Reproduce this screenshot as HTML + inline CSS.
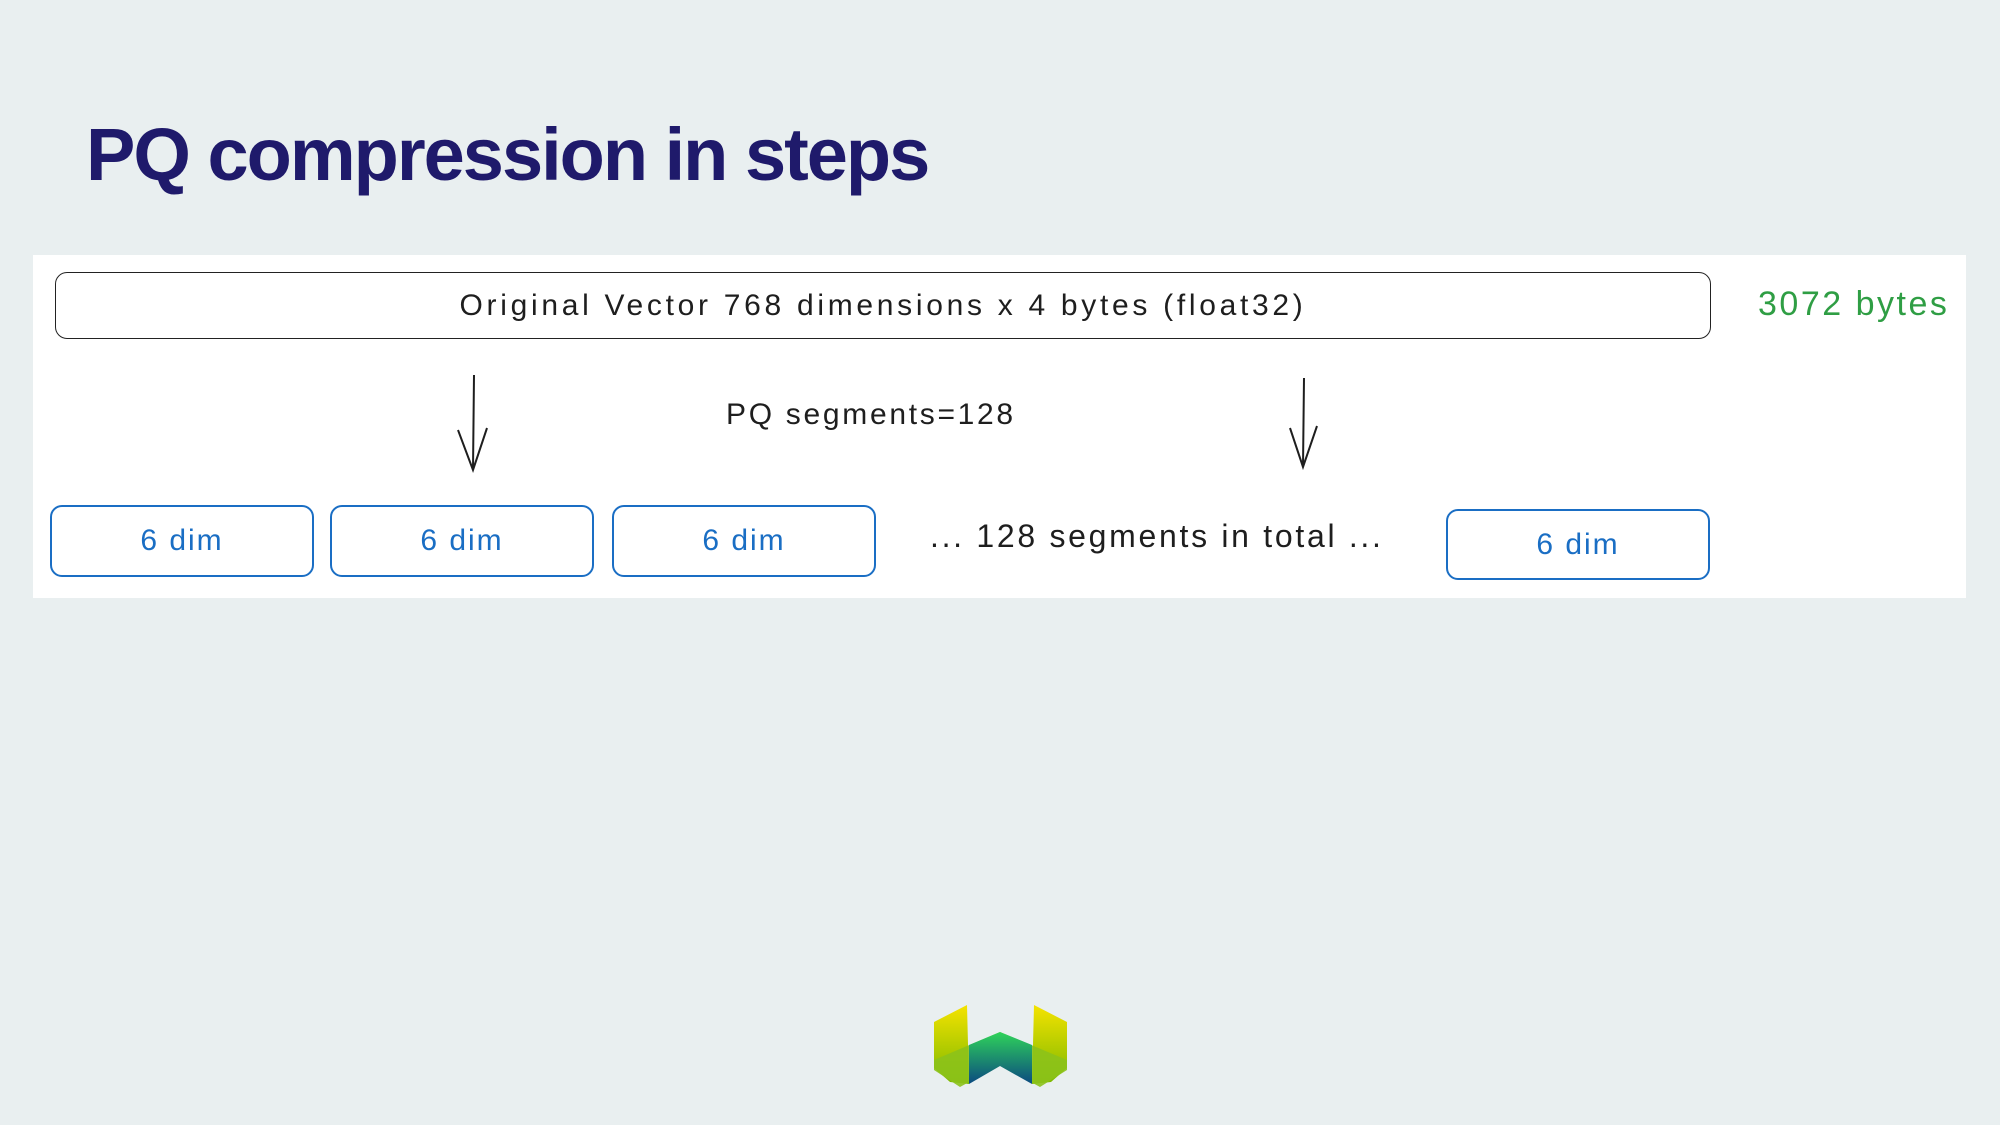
<!DOCTYPE html>
<html><head><meta charset="utf-8"><style>
body{margin:0;width:2000px;height:1125px;background:#e9eff0;position:relative;overflow:hidden;font-family:"Liberation Sans",sans-serif}
.t{position:absolute;white-space:nowrap}
.box{position:absolute;border:2px solid #1a6ec4;border-radius:12px;box-sizing:border-box;color:#1a6ec4;font-size:30px;letter-spacing:2px;display:flex;align-items:center;justify-content:center}
</style></head><body>
<div class="t" style="left:86px;top:112px;font-size:74px;font-weight:bold;color:#1f1a6b;letter-spacing:-2px">PQ compression in steps</div>
<div style="position:absolute;left:33px;top:255px;width:1933px;height:343px;background:#fff"></div>
<div style="position:absolute;left:55px;top:272px;width:1656px;height:67px;border:1.5px solid #222;border-radius:12px;box-sizing:border-box;display:flex;align-items:center;justify-content:center;font-size:30px;letter-spacing:3.7px;color:#1e1e1e">Original Vector 768 dimensions x 4 bytes (float32)</div>
<div class="t" style="left:1758px;top:285px;font-size:34px;letter-spacing:2.5px;color:#2f9e44">3072 bytes</div>
<div class="t" style="left:726px;top:398px;font-size:30px;letter-spacing:2.7px;color:#1e1e1e">PQ segments=128</div>
<div class="t" style="left:930px;top:518px;font-size:32px;letter-spacing:2.7px;color:#1e1e1e">... 128 segments in total ...</div>
<div class="box" style="left:50px;top:505px;width:264px;height:72px">6 dim</div>
<div class="box" style="left:330px;top:505px;width:264px;height:72px">6 dim</div>
<div class="box" style="left:612px;top:505px;width:264px;height:72px">6 dim</div>
<div class="box" style="left:1446px;top:509px;width:264px;height:71px">6 dim</div>
<svg style="position:absolute;left:0;top:0" width="2000" height="1125">
<g stroke="#1e1e1e" stroke-width="2" fill="none">
<path d="M474 375 L473 470 M458 430 L473 470 L487 428"/>
<path d="M1304 378 L1303 467 M1290 428 L1303 467 L1317 426"/>
</g>
<defs><linearGradient id="y" x1="0" y1="0" x2="0" y2="1"><stop offset="0" stop-color="#f5e300"/><stop offset="1" stop-color="#7ab800"/></linearGradient>
<linearGradient id="g" x1="0" y1="0" x2="0" y2="1"><stop offset="0" stop-color="#2fd35a"/><stop offset="1" stop-color="#0b4a80"/></linearGradient></defs>
<path d="M934 1022 L967 1005 L969 1084 L950 1082 L934 1068Z" fill="url(#y)"/>
<path d="M1067 1022 L1034 1005 L1032 1084 L1051 1082 L1067 1068Z" fill="url(#y)"/>
<path d="M934 1060 L1000 1032 L1067 1060 L1067 1070 L1040 1087 L1000 1065 L960 1087 L934 1070Z" fill="#8cc21a" opacity="0.9"/>
<path d="M969 1045 L1000 1032 L1032 1045 L1032 1084 L1000 1066 L969 1084Z" fill="url(#g)"/>
</svg>
</body></html>
